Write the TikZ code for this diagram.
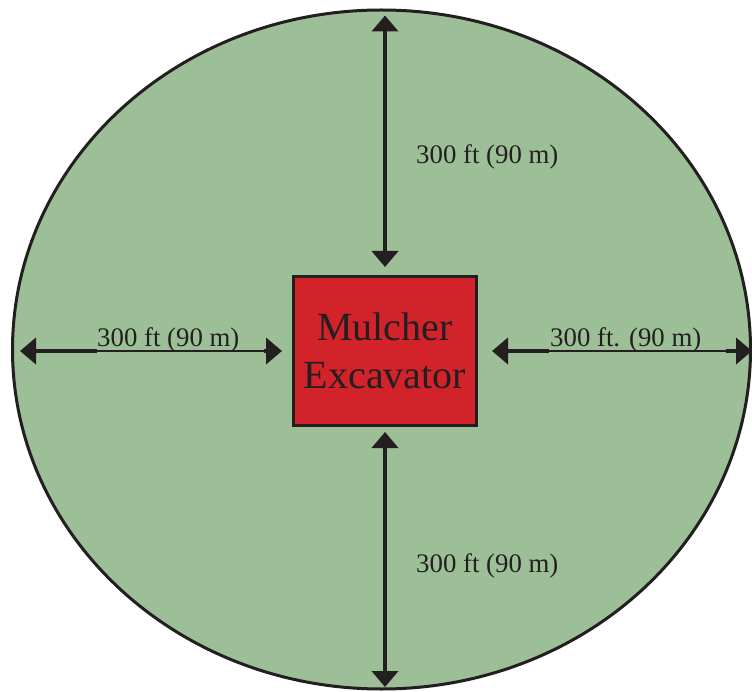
\documentclass[tikz,border=0pt]{standalone}
\usepackage{fontspec}
\setmainfont{Liberation Serif}
\usetikzlibrary{arrows.meta}
\definecolor{zonegreen}{RGB}{157,191,152}
\definecolor{machred}{RGB}{210,35,42}
\definecolor{inkdark}{RGB}{35,31,32}
\begin{document}
\begin{tikzpicture}[
    x=1pt, y=-1pt,
    zone/.style={draw=inkdark, line width=3pt, fill=zonegreen},
    machine/.style={draw=inkdark, line width=3pt, fill=machred, inner sep=0pt, minimum width=183pt, minimum height=149pt, align=center, font=\fontsize{40}{48}\selectfont, text=inkdark},
    dimarrow/.style={draw=inkdark, line width=4.5pt, >={Triangle[width=26pt, length=16pt]}},
    dimline/.style={draw=inkdark, line width=2.6pt},
    dimlabel/.style={inner sep=0pt, font=\fontsize{26.8}{30}\selectfont, text=inkdark},
]
\useasboundingbox (0,0) rectangle (752,692);

% Safety zone
\draw[zone] (381.5,349.5) ellipse [x radius=369, y radius=339.5];

% Machine
\node[machine] (box) at (385,351) {Mulcher\\Excavator};

% Free ends
\coordinate (toptip) at (385,15.5);
\coordinate (bottip) at (385,687);
\coordinate (lefttip) at (20,351);
\coordinate (righttip) at (752,351);

% Vertical distances
\draw[dimarrow, <->, shorten >=8pt] (toptip) -- (box.north);
\draw[dimarrow, <->, shorten <=5pt] (box.south) -- (bottip);
\node[dimlabel, anchor=base west] (toplabel) at (416,164) {300 ft (90 m)};
\node[dimlabel, anchor=base west] (botlabel) at (416,572) {300 ft (90 m)};

% Horizontal distances
\coordinate (leftA) at (97,351);
\coordinate (leftB) at (264,351);
\node[dimlabel, anchor=base west] (leftlabel) at (97,346.5) {300 ft (90 m)};
\draw[dimarrow, <-] (lefttip) -- (leftA);
\draw[dimline] (leftA) -- (leftB);
\draw[dimarrow, ->, shorten >=10pt] (leftB) -- (box.west);

\coordinate (rightA) at (549,351);
\coordinate (rightB) at (726,351);
\node[dimlabel, anchor=base west] (rightlabel) at (550,346.5) {300 ft. (90 m)};
\draw[dimarrow, <-, shorten <=14pt] (box.east) -- (rightA);
\draw[dimline] (rightA) -- (rightB);
\draw[dimarrow, ->] (rightB) -- (righttip);

\end{tikzpicture}
\end{document}
